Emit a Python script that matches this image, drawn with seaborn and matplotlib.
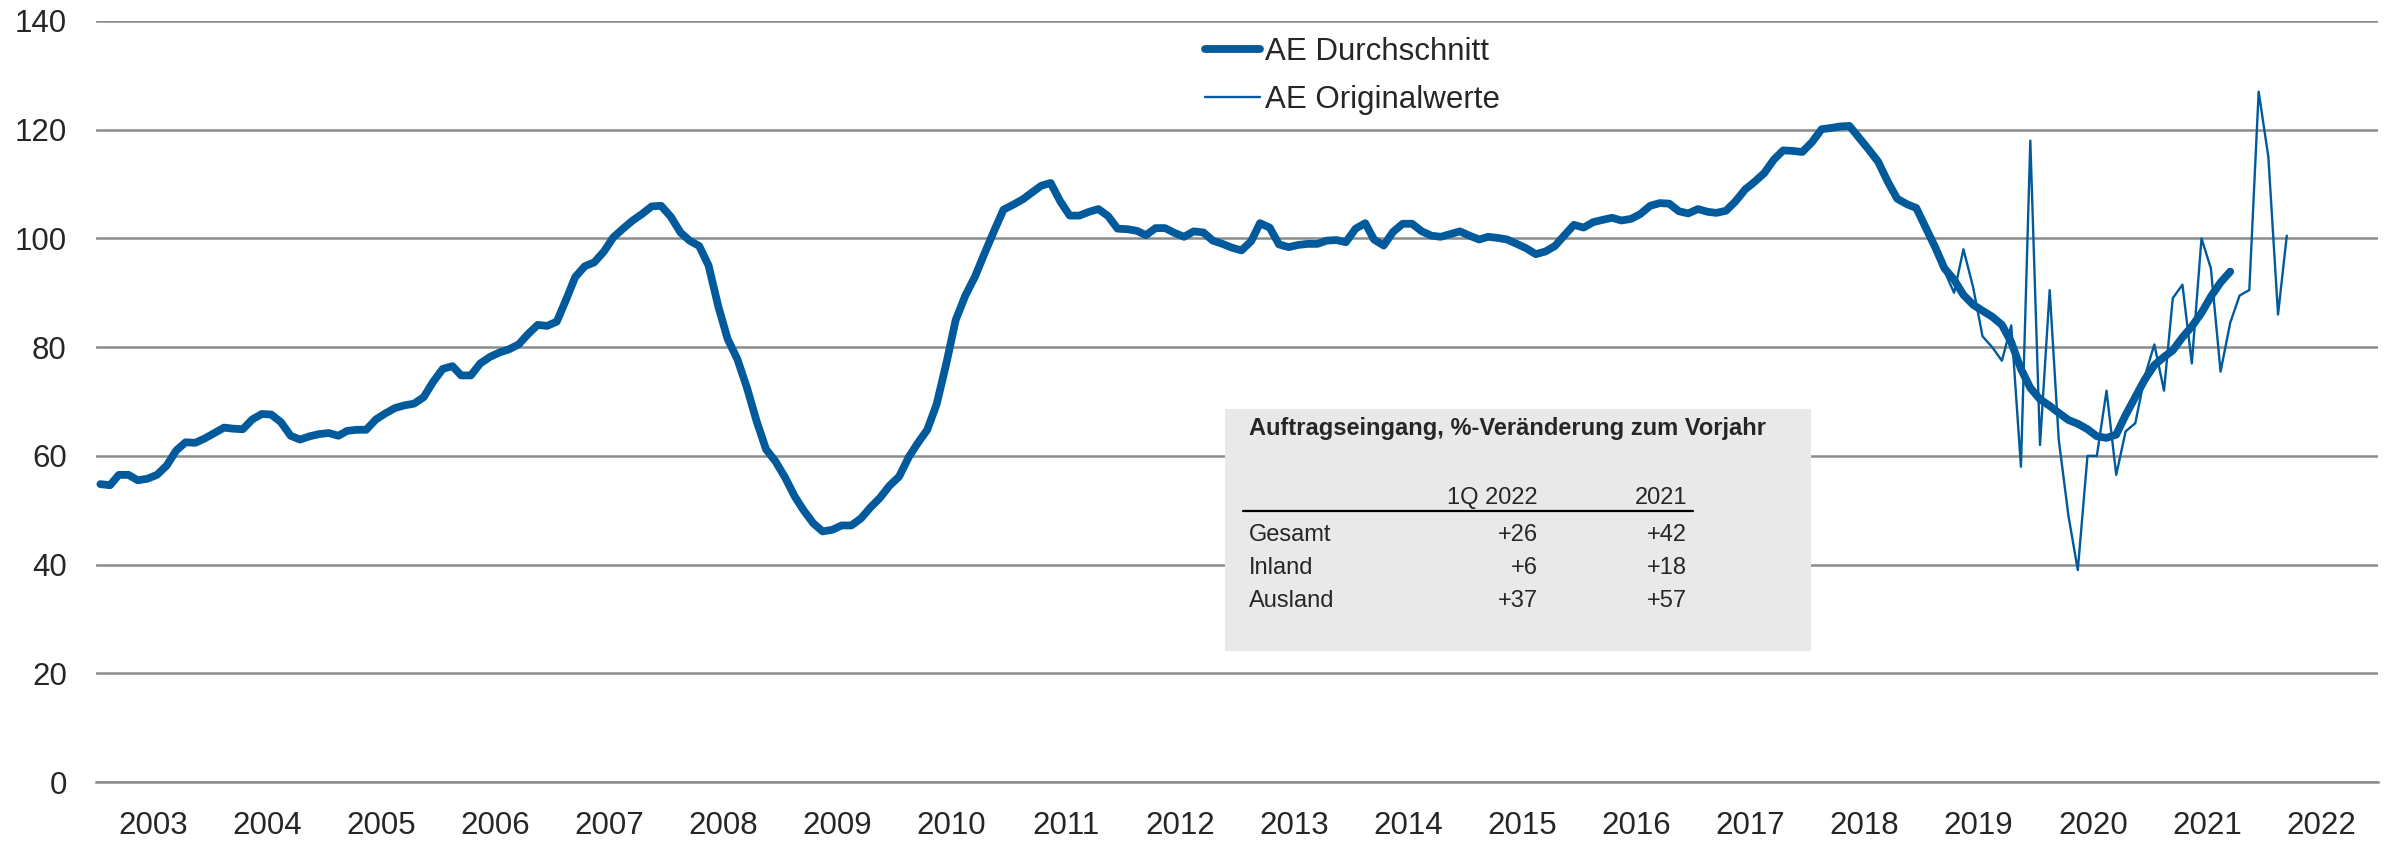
import numpy as np
import pandas as pd
import matplotlib
matplotlib.use('Agg')
import matplotlib.pyplot as plt
from matplotlib.patches import Rectangle
from matplotlib.lines import Line2D
import seaborn as sns

# AE Durchschnitt, monthly values Jan 2003 - Sep 2021
avg_2003_2008 = [
    54.8, 54.6, 56.5, 56.5, 55.5, 55.8, 56.5, 58.2, 61.0, 62.5, 62.4, 63.2,
    64.2, 65.2, 65.0, 64.9, 66.7, 67.7, 67.6, 66.2, 63.7, 63.0, 63.6, 64.0,
    64.2, 63.7, 64.6, 64.8, 64.8, 66.7, 67.8, 68.8, 69.3, 69.6, 70.8, 73.6,
    76.0, 76.5, 74.8, 74.8, 77.0, 78.2, 79.0, 79.6, 80.5, 82.4, 84.1, 83.9,
    84.7, 88.9, 92.9, 94.9, 95.6, 97.6, 100.2, 101.8, 103.3, 104.5, 105.9, 106.0,
    104.0, 101.1, 99.6, 98.6, 95.0, 87.5, 81.5, 77.8, 72.5, 66.5, 61.2, 59.0,
]
avg_2009_2014 = [
    56.0, 52.5, 50.0, 47.6, 46.1, 46.4, 47.2, 47.2, 48.5, 50.5, 52.3, 54.5,
    56.2, 59.8, 62.3, 64.8, 69.5, 77.0, 85.0, 89.5, 93.0, 97.2, 101.4, 105.3,
    106.2, 107.2, 108.4, 109.7, 110.2, 106.8, 104.2, 104.2, 104.9, 105.4, 104.1, 101.8,
    101.7, 101.4, 100.6, 101.9, 101.9, 101.0, 100.3, 101.3, 101.1, 99.6, 99.0, 98.3,
    97.8, 99.5, 102.8, 102.0, 98.9, 98.4, 98.8, 99.0, 99.0, 99.6, 99.7, 99.3,
    101.8, 102.8, 99.8, 98.7, 101.2, 102.7, 102.7, 101.3, 100.5, 100.3, 100.8, 101.3,
]
avg_2015_2021 = [
    100.5, 99.8, 100.3, 100.1, 99.8, 99.0, 98.2, 97.1, 97.6, 98.6, 100.6, 102.5,
    102.0, 103.0, 103.4, 103.8, 103.3, 103.6, 104.5, 106.0, 106.5, 106.4, 105.0, 104.6,
    105.4, 104.9, 104.7, 105.1, 106.8, 109.0, 110.4, 112.0, 114.5, 116.2, 116.1, 115.9,
    117.7, 120.1, 120.3, 120.6, 120.7, 118.5, 116.4, 114.1, 110.4, 107.3, 106.3, 105.6,
    101.9, 98.2, 94.5, 92.4, 89.6, 87.8, 86.7, 85.6, 84.1, 80.9, 76.0, 72.5,
    70.4, 69.2, 67.9, 66.6, 65.9, 64.9, 63.6, 63.3, 63.9, 67.5, 70.8, 74.0,
    76.7, 78.2, 79.4, 81.8, 83.8, 86.3, 89.3, 91.9, 93.9,
]

# AE Originalwerte, monthly values Mar 2019 - Mar 2022
orig_values = [
    94.0, 90.0, 98.0, 91.0, 82.0, 80.0, 77.5, 84.0, 58.0, 118.0,
    62.0, 90.5, 63.0, 49.0, 39.0, 60.0, 60.0, 72.0, 56.5, 64.5, 66.0, 74.5,
    80.5, 72.0, 89.0, 91.5, 77.0, 100.0, 94.5, 75.5, 84.5, 89.5, 90.5, 127.0,
    115.0, 86.0, 100.5,
]

year_labels = [str(y) for y in range(2003, 2023)]

table_title = 'Auftragseingang, %-Veränderung zum Vorjahr'
table_cols = ['1Q 2022', '2021']
table_rows = ['Gesamt', 'Inland', 'Ausland']
table_vals = [['+26', '+42'], ['+6', '+18'], ['+37', '+57']]

avg_values = avg_2003_2008 + avg_2009_2014 + avg_2015_2021
avg_dates = pd.date_range('2003-01-01', periods=len(avg_values), freq='MS') + pd.Timedelta(days=14)
orig_dates = pd.date_range('2019-03-01', periods=len(orig_values), freq='MS') + pd.Timedelta(days=14)

BLUE = '#005a9c'
GRID = '#8c8c8c'

sns.set_style('white')
plt.rcParams['font.family'] = ['Liberation Sans', 'DejaVu Sans']

W, H = 2389, 843
fig = plt.figure(figsize=(W / 100, H / 100), dpi=100)
ax = fig.add_axes([96 / W, 1 - 782 / H, (2378 - 96) / W, (782 - 21) / H])


def fx(px):
    return px / W


def fy(py):
    return 1 - py / H


sns.lineplot(x=avg_dates, y=avg_values, ax=ax, color=BLUE, lw=5.6,
             label='AE Durchschnitt', solid_capstyle='round',
             solid_joinstyle='round', zorder=3)
sns.lineplot(x=orig_dates, y=orig_values, ax=ax, color=BLUE, lw=1.7,
             label='AE Originalwerte', solid_joinstyle='round', zorder=4)

ax.set_ylim(0, 140)
ax.set_yticks(range(0, 141, 20))
ax.set_xlim(pd.Timestamp('2003-01-01'), pd.Timestamp('2023-01-01'))
ax.set_xticks([pd.Timestamp(f'{y}-01-01') for y in range(2003, 2024)])
ax.set_xticks([pd.Timestamp(f'{y}-07-02') for y in range(2003, 2023)],
              labels=year_labels, minor=True)
ax.set_xlabel('')
ax.set_ylabel('')

ax.tick_params(axis='x', which='major', length=8, width=1.8, color=GRID,
               labelbottom=False)
ax.tick_params(axis='x', which='minor', length=0, pad=21, labelsize=22.5)
ax.tick_params(axis='y', length=0, pad=21, labelsize=22.5)

for s in ['left', 'top', 'right']:
    ax.spines[s].set_visible(False)
ax.spines['bottom'].set_color(GRID)
ax.spines['bottom'].set_linewidth(1.8)
ax.grid(axis='y', color=GRID, lw=1.8)
ax.set_axisbelow(True)

# inset table
ax.add_patch(Rectangle((fx(1225), fy(651)), fx(1811) - fx(1225), fy(409) - fy(651),
                       transform=fig.transFigure, facecolor='#e9e9e9',
                       edgecolor='none', zorder=1.5, clip_on=False))
fig.text(fx(1249), fy(435), table_title, fontsize=17, fontweight='bold',
         ha='left', va='baseline')
col_right = [1538, 1687]
for c, lab in enumerate(table_cols):
    fig.text(fx(col_right[c]), fy(504), lab, fontsize=17, ha='right', va='baseline')
fig.add_artist(Line2D([fx(1243), fx(1693)], [fy(511), fy(511)],
                      transform=fig.transFigure, color='black', lw=1.6))
row_base = [541, 574, 607]
for r, lab in enumerate(table_rows):
    fig.text(fx(1249), fy(row_base[r]), lab, fontsize=17, ha='left', va='baseline')
    for c in range(len(table_cols)):
        fig.text(fx(col_right[c]), fy(row_base[r]), table_vals[r][c], fontsize=17,
                 ha='right', va='baseline')

ax.legend(loc='upper left', bbox_to_anchor=(fx(1205), fy(37)),
          bbox_transform=fig.transFigure, frameon=False, fontsize=22.5,
          handlelength=1.75, handletextpad=0.17, labelspacing=0.58,
          borderpad=0, borderaxespad=0)

fig.savefig('out.png', dpi=100)
